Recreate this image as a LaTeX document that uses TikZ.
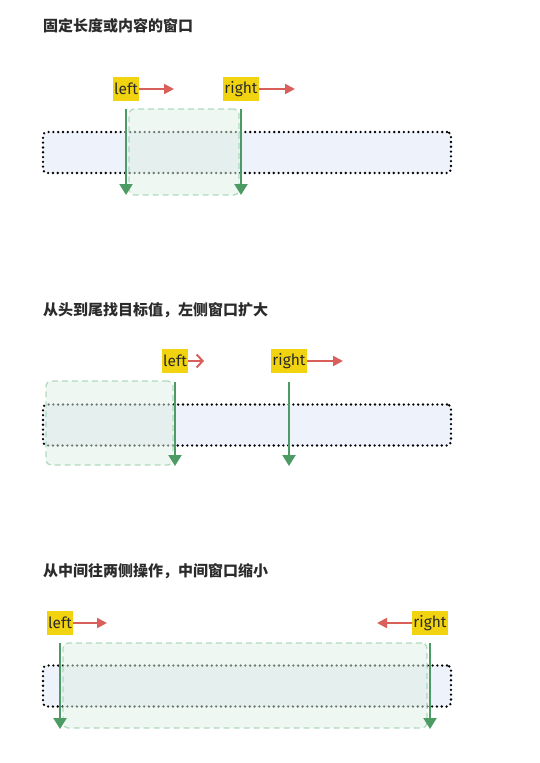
\documentclass[tikz,border=0pt]{standalone}
\usepackage{fontspec}
\setmainfont{Fira Sans}
\newfontfamily\cjk{Noto Sans CJK SC}
\usetikzlibrary{arrows.meta}
\definecolor{barfill}{HTML}{EEF2FB}
\definecolor{winfill}{HTML}{DDF0E3}
\definecolor{windraw}{HTML}{A9D6B8}
\definecolor{ptrred}{HTML}{D9605A}
\definecolor{ptrgreen}{HTML}{4C9A64}
\definecolor{hlyellow}{HTML}{F2D30F}
\definecolor{txt}{HTML}{2B2B2B}

\begin{document}
\begin{tikzpicture}[x=1pt, y=-1pt,
    title/.style={anchor=west, inner sep=0pt, text=txt, font=\cjk\bfseries\fontsize{15}{17}\selectfont},
    bar/.style={draw=black, line width=2.6pt, line cap=round, dash pattern=on 0pt off 4.8pt,
        fill=barfill, rounded corners=4pt,
        minimum width=408pt, minimum height=41pt, inner sep=0pt},
    win/.style={draw=windraw, dash pattern=on 6pt off 4pt, line width=1.3pt, fill=winfill,
        fill opacity=0.5, draw opacity=0.9, rounded corners=5pt, inner sep=0pt},
    ptr/.style={fill=hlyellow, text=txt, inner sep=1pt, minimum height=24pt,
        font=\fontsize{15.5}{17}\selectfont},
    move/.style={draw=ptrred, line width=2pt, -{Triangle[length=10pt,width=10pt]}},
    stay/.style={draw=ptrred, line width=2pt, -{Straight Barb[length=6pt,width=13pt]}},
    probe/.style={draw=ptrgreen, line width=2.2pt, -{Triangle[length=11pt,width=13pt]}}]
\useasboundingbox (0,0) rectangle (540,763);

% Fixed window
\node[title] (T1) at (43,26) {固定长度或内容的窗口};
\node[bar] (B1) at (247,152.5) {};
\node[win, minimum width=110pt, minimum height=86pt] (W1) at (184,152) {};
\node[ptr] (L1) at (126,89) {left};
\node[ptr] (R1) at (241,89) {right};
\coordinate (L1m) at (174,89);
\coordinate (R1m) at (295,89);
\draw[move] (L1.east) -- (L1m);
\draw[move] (R1.east) -- (R1m);
\coordinate (L1a) at (126,109); \coordinate (L1b) at (126,195);
\coordinate (R1a) at (241,109); \coordinate (R1b) at (241,195);
\draw[probe] (L1a) -- (L1b);
\draw[probe] (R1a) -- (R1b);

% Growing window
\node[title] (T2) at (43,310) {从头到尾找目标值，左侧窗口扩大};
\node[bar] (B2) at (247,425) {};
\node[win, minimum width=127pt, minimum height=84pt] (W2) at (109.5,423) {};
\node[ptr] (L2) at (175,361) {left};
\node[ptr] (R2) at (289,361) {right};
\coordinate (L2m) at (204,361);
\coordinate (R2m) at (343,361);
\draw[stay] (L2.east) -- (L2m);
\draw[move] (R2.east) -- (R2m);
\coordinate (L2a) at (175,382); \coordinate (L2b) at (175,466);
\coordinate (R2a) at (289,382); \coordinate (R2b) at (289,466);
\draw[probe] (L2a) -- (L2b);
\draw[probe] (R2a) -- (R2b);

% Shrinking window
\node[title] (T3) at (43,571) {从中间往两侧操作，中间窗口缩小};
\node[bar] (B3) at (247,686) {};
\node[win, minimum width=364pt, minimum height=85pt] (W3) at (245,685.5) {};
\node[ptr] (L3) at (60,623) {left};
\node[ptr] (R3) at (430,623) {right};
\coordinate (L3m) at (107,623);
\coordinate (R3m) at (377,623);
\draw[move] (L3.east) -- (L3m);
\draw[move] (R3.west) -- (R3m);
\coordinate (L3a) at (60,643); \coordinate (L3b) at (60,729);
\coordinate (R3a) at (430,643); \coordinate (R3b) at (430,729);
\draw[probe] (L3a) -- (L3b);
\draw[probe] (R3a) -- (R3b);

\end{tikzpicture}
\end{document}
